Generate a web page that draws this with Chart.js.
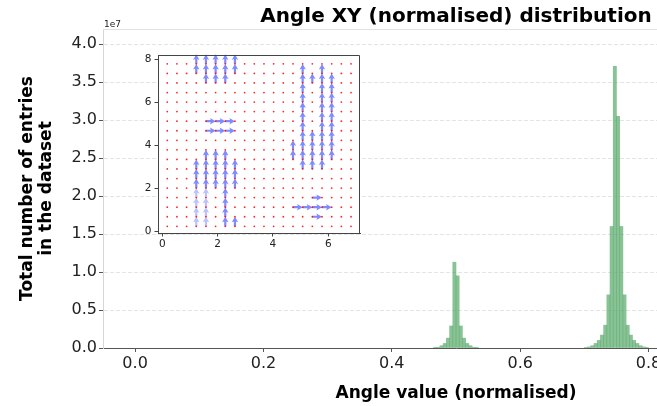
<!DOCTYPE html>
<html>
<head>
<meta charset="utf-8">
<script src="https://cdn.jsdelivr.net/npm/chart.js@4.4.0/dist/chart.umd.min.js"></script>
<style>
  html, body { margin: 0; padding: 0; background: #fff; overflow: hidden; }
  #wrap { position: relative; width: 657px; height: 406px; overflow: hidden; }
  #main { position: absolute; left: 0; top: 0; }
  #inset { position: absolute; left: 130px; top: 45px; }
</style>
</head>
<body>
<div id="wrap">
  <canvas id="main" width="912" height="406"></canvas>
  <canvas id="inset" width="240" height="205"></canvas>
</div>
<script>
// histogram: centre of each 0.005-wide bin and its count
const binCentres = [
  0.4675, 0.4725, 0.4775, 0.4825, 0.4875, 0.4925, 0.4975, 0.5025, 0.5075, 0.5125, 0.5175, 0.5225, 0.5275, 0.5325,
  0.7025, 0.7075, 0.7125, 0.7175, 0.7225, 0.7275, 0.7325, 0.7375, 0.7425, 0.7475,
  0.7525, 0.7575, 0.7625, 0.7675, 0.7725, 0.7775, 0.7825, 0.7875, 0.7925, 0.7975
];
const binCounts = [
  0.003e7, 0.01e7, 0.03e7, 0.06e7, 0.13e7, 0.29e7, 1.13e7, 0.95e7, 0.29e7, 0.13e7, 0.06e7, 0.03e7, 0.01e7, 0.003e7,
  0.005e7, 0.015e7, 0.03e7, 0.06e7, 0.10e7, 0.17e7, 0.30e7, 0.70e7, 1.60e7, 3.71e7,
  3.05e7, 1.60e7, 0.70e7, 0.30e7, 0.17e7, 0.10e7, 0.06e7, 0.03e7, 0.015e7, 0.005e7
];
const xTicks = [0, 0.2, 0.4, 0.6, 0.8, 1.0];
const yTicks = [0, 0.5e7, 1.0e7, 1.5e7, 2.0e7, 2.5e7, 3.0e7, 3.5e7, 4.0e7];

// inset: sample grid (red dots) and arrows (tails)
const gridX = [0.175, 0.525, 0.875, 1.225, 1.575, 1.925, 2.275, 2.625, 2.975, 3.325,
               3.675, 4.025, 4.375, 4.725, 5.075, 5.425, 5.775, 6.125, 6.475, 6.825];
const gridY = [0.222, 0.667, 1.111, 1.556, 2.0, 2.444, 2.889, 3.333, 3.778,
               4.222, 4.667, 5.111, 5.556, 6.0, 6.444, 6.889, 7.333, 7.778];
const insetXTicks = [0, 2, 4, 6];
const insetYTicks = [0, 2, 4, 6, 8];
const upVector = [0, 0.444];
const rightVector = [0.35, 0];
const upArrows = [
  [1.225, 7.333], [1.225, 7.778],
  [1.575, 6.889], [1.575, 7.333], [1.575, 7.778],
  [1.925, 6.889], [1.925, 7.333], [1.925, 7.778],
  [2.275, 6.889], [2.275, 7.333], [2.275, 7.778],
  [2.625, 7.333], [2.625, 7.778],
  [1.225, 2.0], [1.225, 2.444], [1.225, 2.889],
  [1.575, 2.0], [1.575, 2.444], [1.575, 2.889], [1.575, 3.333],
  [1.925, 2.0], [1.925, 2.444], [1.925, 2.889], [1.925, 3.333],
  [2.275, 0.222], [2.275, 0.667], [2.275, 1.111], [2.275, 1.556],
  [2.275, 2.0], [2.275, 2.444], [2.275, 2.889], [2.275, 3.333],
  [2.625, 0.222], [2.625, 2.0], [2.625, 2.444], [2.625, 2.889],
  [4.725, 3.333], [4.725, 3.778],
  [5.075, 2.889], [5.075, 3.333], [5.075, 3.778], [5.075, 4.222], [5.075, 4.667], [5.075, 5.111],
  [5.075, 5.556], [5.075, 6.0], [5.075, 6.444], [5.075, 6.889], [5.075, 7.333],
  [5.425, 2.889], [5.425, 3.333], [5.425, 3.778], [5.425, 4.222], [5.425, 6.889],
  [5.775, 2.889], [5.775, 3.333], [5.775, 3.778], [5.775, 4.222], [5.775, 4.667], [5.775, 5.111],
  [5.775, 5.556], [5.775, 6.0], [5.775, 6.444], [5.775, 6.889], [5.775, 7.333],
  [6.125, 3.333], [6.125, 3.778], [6.125, 4.222], [6.125, 4.667], [6.125, 5.111],
  [6.125, 5.556], [6.125, 6.0], [6.125, 6.444], [6.125, 6.889]
];
const faintUpArrows = [
  [1.225, 0.222], [1.225, 0.667], [1.225, 1.111], [1.225, 1.556],
  [1.575, 0.222], [1.575, 0.667], [1.575, 1.111], [1.575, 1.556]
];
const rightArrows = [
  [1.575, 5.111], [1.925, 5.111], [2.275, 5.111],
  [1.575, 4.667], [1.925, 4.667], [2.275, 4.667],
  [5.425, 1.556],
  [4.725, 1.111], [5.075, 1.111], [5.425, 1.111], [5.775, 1.111],
  [5.425, 0.667]
];

Chart.defaults.font.family = 'DejaVu Sans';

const mainExtras = {
  id: 'mainExtras',
  afterDraw(chart) {
    const {ctx, chartArea} = chart;
    ctx.save();
    ctx.strokeStyle = '#e2e2e2';
    ctx.lineWidth = 1;
    ctx.beginPath();
    ctx.moveTo(chartArea.left, chartArea.top + 0.5);
    ctx.lineTo(chartArea.right, chartArea.top + 0.5);
    ctx.stroke();
    ctx.fillStyle = '#222';
    ctx.font = '9px DejaVu Sans';
    ctx.textBaseline = 'alphabetic';
    ctx.fillText('1e7', chartArea.left + 1, chartArea.top - 2);
    ctx.restore();
  }
};

new Chart(document.getElementById('main'), {
  type: 'bar',
  data: {
    datasets: [{
      data: binCentres.map((x, i) => ({x: x, y: binCounts[i]})),
      backgroundColor: 'rgba(85,168,104,0.7)',
      borderWidth: 0,
      barPercentage: 1,
      categoryPercentage: 1
    }]
  },
  options: {
    responsive: false,
    animation: false,
    devicePixelRatio: 1,
    plugins: {
      legend: { display: false },
      tooltip: { enabled: false },
      title: {
        display: true,
        text: 'Angle XY (normalised) distribution',
        color: '#000',
        font: { size: 20, weight: 'bold', lineHeight: 1.2 },
        padding: { top: 5, bottom: 0 }
      }
    },
    scales: {
      x: {
        type: 'linear',
        min: -0.05,
        max: 1.05,
        offset: false,
        afterFit: s => { s.height = 58; },
        afterBuildTicks: s => { s.ticks = xTicks.map(v => ({value: v})); },
        ticks: {
          callback: v => v.toFixed(1),
          color: '#222',
          font: { size: 16 },
          padding: 2,
          maxRotation: 0,
          autoSkip: false
        },
        grid: { offset: false, drawOnChartArea: false, tickColor: '#555', tickLength: 4 },
        border: { color: '#555' },
        title: {
          display: true,
          text: 'Angle value (normalised)',
          color: '#000',
          font: { size: 17, weight: 'bold', lineHeight: 1.12 },
          padding: { top: 0, bottom: 3 }
        }
      },
      y: {
        min: 0,
        max: 4.2e7,
        afterFit: s => { s.width = 103; },
        afterBuildTicks: s => { s.ticks = yTicks.map(v => ({value: v})); },
        ticks: {
          callback: v => (v / 1e7).toFixed(1),
          color: '#222',
          font: { size: 16 },
          padding: 2
        },
        grid: {
          color: c => (c.tick && c.tick.value === 0) ? 'rgba(0,0,0,0)' : '#e4e4e4',
          tickColor: '#555',
          tickLength: 4
        },
        border: { color: '#d6d6d6', dash: [4, 2] },
        title: {
          display: true,
          text: ['Total number of entries', 'in the dataset'],
          color: '#000',
          font: { size: 17, weight: 'bold', lineHeight: 1.12 },
          padding: { top: 18, bottom: 0 }
        }
      },
      // empty right-hand box so the plot (and title) stay centred on the full figure
      yRight: {
        position: 'right',
        afterFit: s => { s.width = 103; },
        ticks: { display: false },
        grid: { display: false, drawTicks: false },
        border: { display: false }
      }
    }
  },
  plugins: [mainExtras]
});

function drawArrow(ctx, x0, y0, x1, y1, color) {
  const dx = x1 - x0, dy = y1 - y0, len = Math.hypot(dx, dy);
  const ux = dx / len, uy = dy / len, nx = -uy, ny = ux;
  const sw = 1.1, hw = 3.2, hl = 5.6, ha = 4.8;
  const bx = x1 - ux * hl, by = y1 - uy * hl;
  const cx = x1 - ux * ha, cy = y1 - uy * ha;
  ctx.beginPath();
  ctx.moveTo(x0 + nx * sw, y0 + ny * sw);
  ctx.lineTo(cx + nx * sw, cy + ny * sw);
  ctx.lineTo(bx + nx * hw, by + ny * hw);
  ctx.lineTo(x1, y1);
  ctx.lineTo(bx - nx * hw, by - ny * hw);
  ctx.lineTo(cx - nx * sw, cy - ny * sw);
  ctx.lineTo(x0 - nx * sw, y0 - ny * sw);
  ctx.closePath();
  ctx.fillStyle = color;
  ctx.fill();
}

const insetExtras = {
  id: 'insetExtras',
  beforeDraw(chart) {
    const {ctx, chartArea: a} = chart;
    ctx.save();
    ctx.fillStyle = '#fff';
    ctx.fillRect(a.left, a.top, a.right - a.left, a.bottom - a.top);
    ctx.restore();
  },
  beforeDatasetsDraw(chart) {
    const {ctx, scales: {x, y}} = chart;
    ctx.save();
    const put = (list, vec, color) => list.forEach(p => {
      drawArrow(ctx, x.getPixelForValue(p[0]), y.getPixelForValue(p[1]),
        x.getPixelForValue(p[0] + vec[0]), y.getPixelForValue(p[1] + vec[1]), color);
    });
    put(faintUpArrows, upVector, 'rgba(60,75,255,0.35)');
    put(upArrows, upVector, 'rgba(60,75,255,0.65)');
    put(rightArrows, rightVector, 'rgba(60,75,255,0.65)');
    ctx.restore();
  },
  afterDraw(chart) {
    const {ctx, chartArea: a} = chart;
    ctx.save();
    ctx.strokeStyle = '#444';
    ctx.lineWidth = 1;
    ctx.beginPath();
    ctx.moveTo(a.left, a.top + 0.5);
    ctx.lineTo(a.right - 0.5, a.top + 0.5);
    ctx.lineTo(a.right - 0.5, a.bottom);
    ctx.stroke();
    ctx.restore();
  }
};

const gridPoints = [];
gridX.forEach(gx => gridY.forEach(gy => gridPoints.push({x: gx, y: gy})));

new Chart(document.getElementById('inset'), {
  type: 'scatter',
  data: {
    datasets: [{
      data: gridPoints,
      pointRadius: 0.9,
      pointHoverRadius: 0.9,
      backgroundColor: 'rgba(255,0,0,0.85)',
      borderWidth: 0
    }]
  },
  options: {
    responsive: false,
    animation: false,
    devicePixelRatio: 1,
    layout: { padding: { left: 0, right: 10, top: 10, bottom: 0 } },
    plugins: { legend: { display: false }, tooltip: { enabled: false } },
    scales: {
      x: {
        min: -0.16,
        max: 7.15,
        afterFit: s => { s.height = 17; },
        afterBuildTicks: s => { s.ticks = insetXTicks.map(v => ({value: v})); },
        ticks: { color: '#222', font: { size: 10.5 }, padding: 1, maxRotation: 0 },
        grid: { drawOnChartArea: false, tickColor: '#444', tickLength: 3.5 },
        border: { color: '#444' }
      },
      y: {
        min: -0.09,
        max: 8.19,
        afterFit: s => { s.width = 28; },
        afterBuildTicks: s => { s.ticks = insetYTicks.map(v => ({value: v})); },
        ticks: { color: '#222', font: { size: 10.5 }, padding: 3 },
        grid: { drawOnChartArea: false, tickColor: '#444', tickLength: 3.5 },
        border: { color: '#444' }
      }
    }
  },
  plugins: [insetExtras]
});
</script>
</body>
</html>
